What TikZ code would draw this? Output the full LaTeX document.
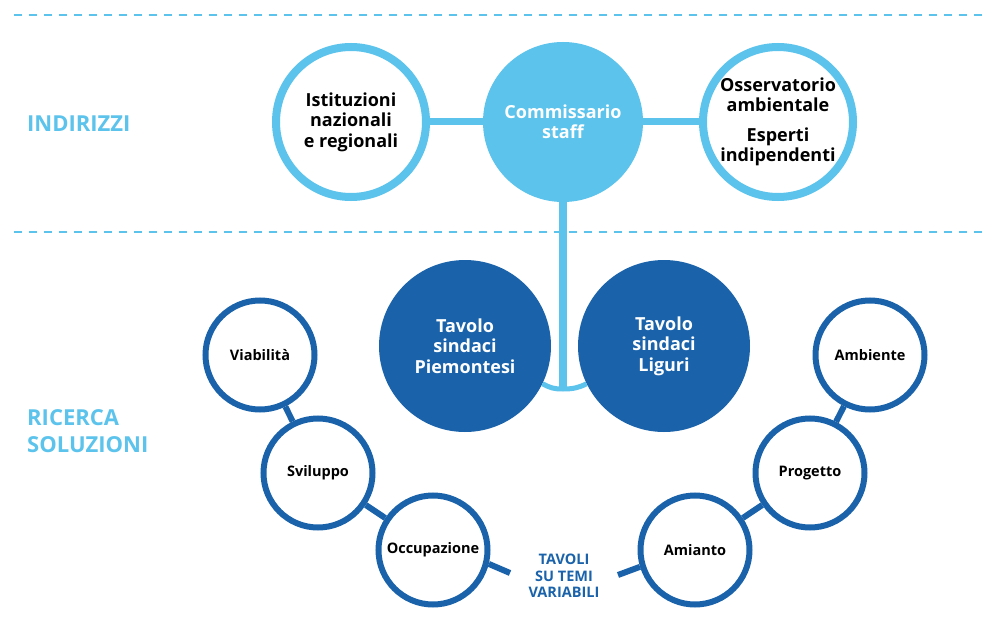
\documentclass[tikz,border=0pt]{standalone}
\usepackage{fontspec}
\setmainfont{Open Sans}
\definecolor{sky}{HTML}{5BC3EC}
\definecolor{navy}{HTML}{1A63AB}

\begin{document}
\begin{tikzpicture}[x=1pt,y=-1pt,
  ring/.style={circle, draw=sky, line width=8pt, fill=white, minimum size=150pt,
    inner sep=0pt, align=center, text=black,
    font=\fontsize{18}{20.5}\selectfont\bfseries},
  hub/.style={circle, fill=sky, minimum size=160pt, inner sep=0pt, align=center,
    text=white, font=\fontsize{18}{20.5}\selectfont\bfseries},
  table/.style={circle, fill=navy, minimum size=172pt, inner sep=0pt, align=center,
    text=white, font=\fontsize{18}{20.5}\selectfont\bfseries},
  theme/.style={circle, draw=navy, line width=6pt, fill=white, minimum size=109pt,
    inner sep=0pt, text=black, font=\fontsize{14.5}{16}\selectfont\bfseries},
  skyline/.style={draw=sky, line width=7pt},
  navyline/.style={draw=navy, line width=6pt},
  divider/.style={draw=sky, line width=2.5pt, dash pattern=on 8pt off 7pt},
  section/.style={text=sky, anchor=west, inner sep=0pt, align=left,
    font=\fontsize{22}{27}\selectfont\bfseries},
  caption/.style={text=navy, inner sep=0pt, align=center,
    font=\fontsize{14.5}{16.5}\selectfont\bfseries}
]
\useasboundingbox (0,0) rectangle (989,642);
\fill[white] (0,0) rectangle (989,642);

% section dividers
\coordinate (d1a) at (14,15);   \coordinate (d1b) at (989,15);
\coordinate (d2a) at (14,232);  \coordinate (d2b) at (989,232);
\draw[divider] (d1a) -- (d1b);
\draw[divider] (d2a) -- (d2b);

% section titles
\node[section] (indirizzi) at (27,124) {INDIRIZZI};
\node[section] (ricerca) at (27,431) {RICERCA\\SOLUZIONI};

% guidance row
\node[ring] (ist) at (351,122) {Istituzioni\\nazionali\\e regionali};
\node[hub]  (comm) at (563,122) {Commissario\\staff};
\node[ring] (oss) at (778,122) {Osservatorio\\ambientale\\[9pt]Esperti\\indipendenti};

% mayors' tables
\node[table] (pie) at (465,346) {Tavolo\\sindaci\\Piemontesi};
\node[table] (lig) at (664,346) {Tavolo\\sindaci\\Liguri};

% thematic tables
\node[theme] (via) at (260,355) {Viabilità};
\node[theme] (svi) at (318,473) {Sviluppo};
\node[theme] (occ) at (433,550) {Occupazione};
\node[theme] (ami) at (695,550) {Amianto};
\node[theme] (pro) at (810,473) {Progetto};
\node[theme] (amb) at (870,355) {Ambiente};
\node[caption] (tav) at (564,576) {TAVOLI\\SU TEMI\\VARIABILI};

% connectors in the guidance row
\draw[skyline] (ist) -- (comm);
\draw[skyline] (comm) -- (oss);
\coordinate (junc) at (563,389);
\draw[draw=sky, line width=8pt] (comm) -- (junc);
\draw[draw=sky, line width=5pt] (pie.-26) .. controls +(8,4) and +(-10,0) .. (junc)
  .. controls +(10,0) and +(-8,4) .. (lig.206);

% connectors between thematic tables
\draw[navyline] (via) -- (svi);
\draw[navyline] (svi) -- (occ);
\draw[navyline] (amb) -- (pro);
\draw[navyline] (pro) -- (ami);
\coordinate (tavL) at (510,573);
\coordinate (tavR) at (618,575);
\draw[navyline] (occ.-14) -- (tavL);
\draw[navyline] (tavR) -- (ami.197);
\end{tikzpicture}
\end{document}
